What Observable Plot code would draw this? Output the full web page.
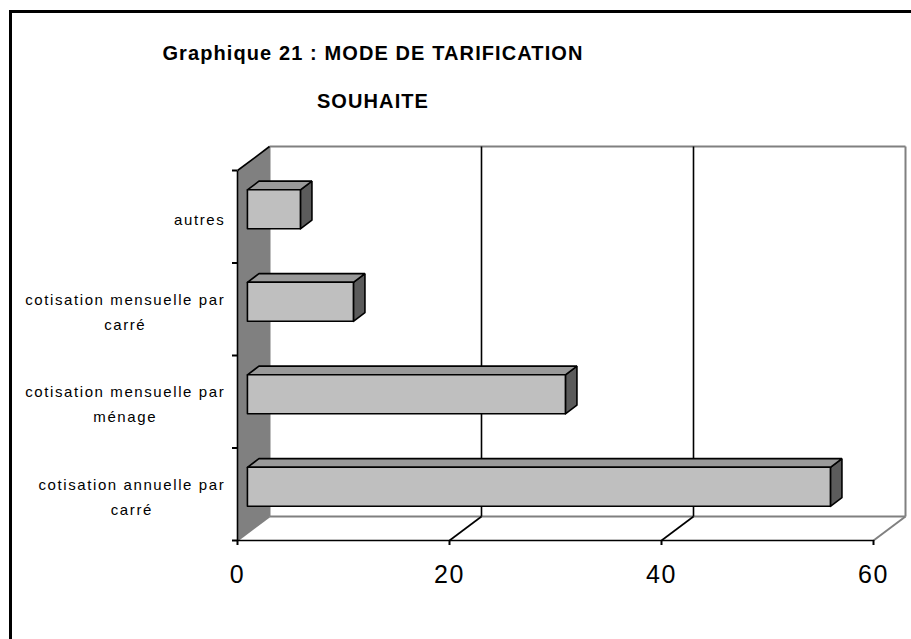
<!DOCTYPE html>
<html><head><meta charset="utf-8">
<script src="https://cdn.jsdelivr.net/npm/d3@7"></script>
<script src="https://cdn.jsdelivr.net/npm/@observablehq/plot@0.6"></script>
<style>
body{margin:0;background:#fff;overflow:hidden;font-family:"Liberation Sans",Arial,sans-serif;}
#wrap{position:relative;width:911px;height:639px;overflow:hidden;background:#fff;}
#frame{position:absolute;left:9px;top:10px;width:1000px;height:800px;border:3px solid #000;box-sizing:border-box;}
#chart{position:absolute;left:0;top:0;}
#chart svg text{letter-spacing:1.6px;}
#title{position:absolute;left:0;width:746px;top:29px;text-align:center;font-weight:bold;font-size:20px;letter-spacing:1.1px;line-height:48px;color:#000;}
</style></head><body>
<div id="wrap"><div id="frame"></div><div id="chart"></div><div id="title">Graphique 21 : MODE DE TARIFICATION<br>SOUHAITE</div></div>
<script>
// ---- data ----
const categories = ["cotisation annuelle par\ncarré", "cotisation mensuelle par\nménage", "cotisation mensuelle par\ncarré", "autres"];
const values = [55, 30, 10, 5];
const xTicks = [0, 20, 40, 60];
const xMax = 60;

// ---- layout ----
const W = 911, H = 639;
const mL = 237, mR = 38, mT = 170, mB = 99;
const nCat = categories.length;
const pxPerX = (W - mL - mR) / xMax, pxPerY = (H - mT - mB) / nCat;
const depthX = 32 / pxPerX, depthY = 24 / pxPerY;   // full depth of the 3D box, in data units
const barFront = 0.31, barBack = 0.67, barHalf = 19.5 / pxPerY;
const gray = "#808080";

const P = (x, y, d) => ({x: x + d * depthX, y: y + d * depthY});
const poly = (id, pts) => [...pts, pts[0]].map(p => ({...p, id}));

const leftWall = poly("lw", [P(0,0,0), P(0,0,1), P(0,nCat,1), P(0,nCat,0)]);
const backWall = poly("bw", [P(0,0,1), P(xMax,0,1), P(xMax,nCat,1), P(0,nCat,1)]);
const floorP = poly("fl", [P(0,0,0), P(xMax,0,0), P(xMax,0,1), P(0,0,1)]);

const fronts = [], tops = [], sides = [];
values.forEach((v, i) => {
  const y0 = i + 0.5 - barHalf, y1 = i + 0.5 + barHalf, f = barFront, b = barBack;
  fronts.push(...poly("f"+i, [P(0,y0,f), P(v,y0,f), P(v,y1,f), P(0,y1,f)]));
  tops.push(...poly("t"+i, [P(0,y1,f), P(v,y1,f), P(v,y1,b), P(0,y1,b)]));
  sides.push(...poly("s"+i, [P(v,y0,f), P(v,y0,b), P(v,y1,b), P(v,y1,f)]));
});

const seg = (a, b, c) => ({x1: a.x, y1: a.y, x2: b.x, y2: b.y, c});
const segs = [];
segs.push(seg(P(0,nCat,1), P(xMax,nCat,1), gray));
segs.push(seg(P(xMax,nCat,1), P(xMax,0,1), gray));
segs.push(seg(P(0,0,1), P(xMax,0,1), gray));
segs.push(seg(P(0,0,1), P(0,nCat,1), gray));
segs.push(seg(P(xMax,0,0), P(xMax,0,1), gray));
segs.push(seg(P(0,0,0), P(0,0,1), gray));
xTicks.filter(t => t > 0 && t < xMax).forEach(t => {
  segs.push(seg(P(t,0,0), P(t,0,1), "#000"));
  segs.push(seg(P(t,0,1), P(t,nCat,1), "#000"));
});
segs.push(seg(P(0,0,0), P(xMax,0,0), "#000"));
segs.push(seg(P(0,0,0), P(0,nCat,0), "#000"));
segs.push(seg(P(0,nCat,0), P(0,nCat,1), "#000"));

// label centering (right-aligned block, centered lines)
const catFont = 15, catLS = 1.6, labelRight = 224;
const ctx = document.createElement("canvas").getContext("2d");
ctx.font = `${catFont}px "Liberation Sans"`;
const labelX = d => {
  const w = Math.max(...d.split("\n").map(s => ctx.measureText(s).width + (s.length - 1) * catLS));
  return (labelRight - w / 2 - mL) / pxPerX;
};

const chart = Plot.plot({
  width: W, height: H,
  marginLeft: mL, marginRight: mR, marginTop: mT, marginBottom: mB,
  style: {fontFamily: '"Liberation Sans", Arial, sans-serif', background: "transparent", color: "#000"},
  x: {domain: [0, xMax], label: null, axis: null},
  y: {domain: [0, nCat], label: null, axis: null},
  marks: [
    Plot.line(backWall, {x: "x", y: "y", z: "id", fill: "#fff", stroke: "none"}),
    Plot.line(floorP, {x: "x", y: "y", z: "id", fill: "#fff", stroke: "none"}),
    Plot.line(leftWall, {x: "x", y: "y", z: "id", fill: gray, stroke: "none"}),
    Plot.link(segs, {x1: "x1", y1: "y1", x2: "x2", y2: "y2", stroke: d => d.c, strokeWidth: d => d.c === gray ? 2 : 1.6}),
    Plot.line(sides, {x: "x", y: "y", z: "id", fill: "url(#pSide)", stroke: "#000", strokeWidth: 1.6, strokeLinejoin: "miter"}),
    Plot.line(tops, {x: "x", y: "y", z: "id", fill: "url(#pTop)", stroke: "#000", strokeWidth: 1.6, strokeLinejoin: "miter"}),
    Plot.line(fronts, {x: "x", y: "y", z: "id", fill: "url(#pFront)", stroke: "#000", strokeWidth: 1.6, strokeLinejoin: "miter"}),
    Plot.axisX(xTicks, {tickSize: 5, tickPadding: 20, fontSize: 25, strokeWidth: 2, label: null}),
    Plot.axisY(d3.range(nCat + 1), {tickSize: 5, strokeWidth: 2, tickFormat: () => "", label: null}),
    Plot.text(categories, {x: d => labelX(d), y: (d, i) => i + 0.5, text: d => d, textAnchor: "middle", lineAnchor: "middle", lineHeight: 25 / catFont, fontSize: catFont, fill: "#000"})
  ]
});
document.getElementById("chart").appendChild(chart);

const svg = d3.select(chart);
const defs = svg.insert("defs", ":first-child");
function checker(id, bg, fg) {
  const p = defs.append("pattern").attr("id", id).attr("patternUnits", "userSpaceOnUse").attr("width", 2).attr("height", 2);
  p.append("rect").attr("width", 2).attr("height", 2).attr("fill", bg);
  p.append("rect").attr("width", 1).attr("height", 1).attr("fill", fg);
  p.append("rect").attr("x", 1).attr("y", 1).attr("width", 1).attr("height", 1).attr("fill", fg);
}
checker("pFront", "#ffffff", "#7f7f7f");
checker("pTop", "#c8c8c8", "#6a6a6a");
checker("pSide", "#8c8c8c", "#2a2a2a");
svg.selectAll("text").filter(function() { return this.getAttribute("font-size") === "25"; }).style("letter-spacing", "3px");
</script>
</body></html>
